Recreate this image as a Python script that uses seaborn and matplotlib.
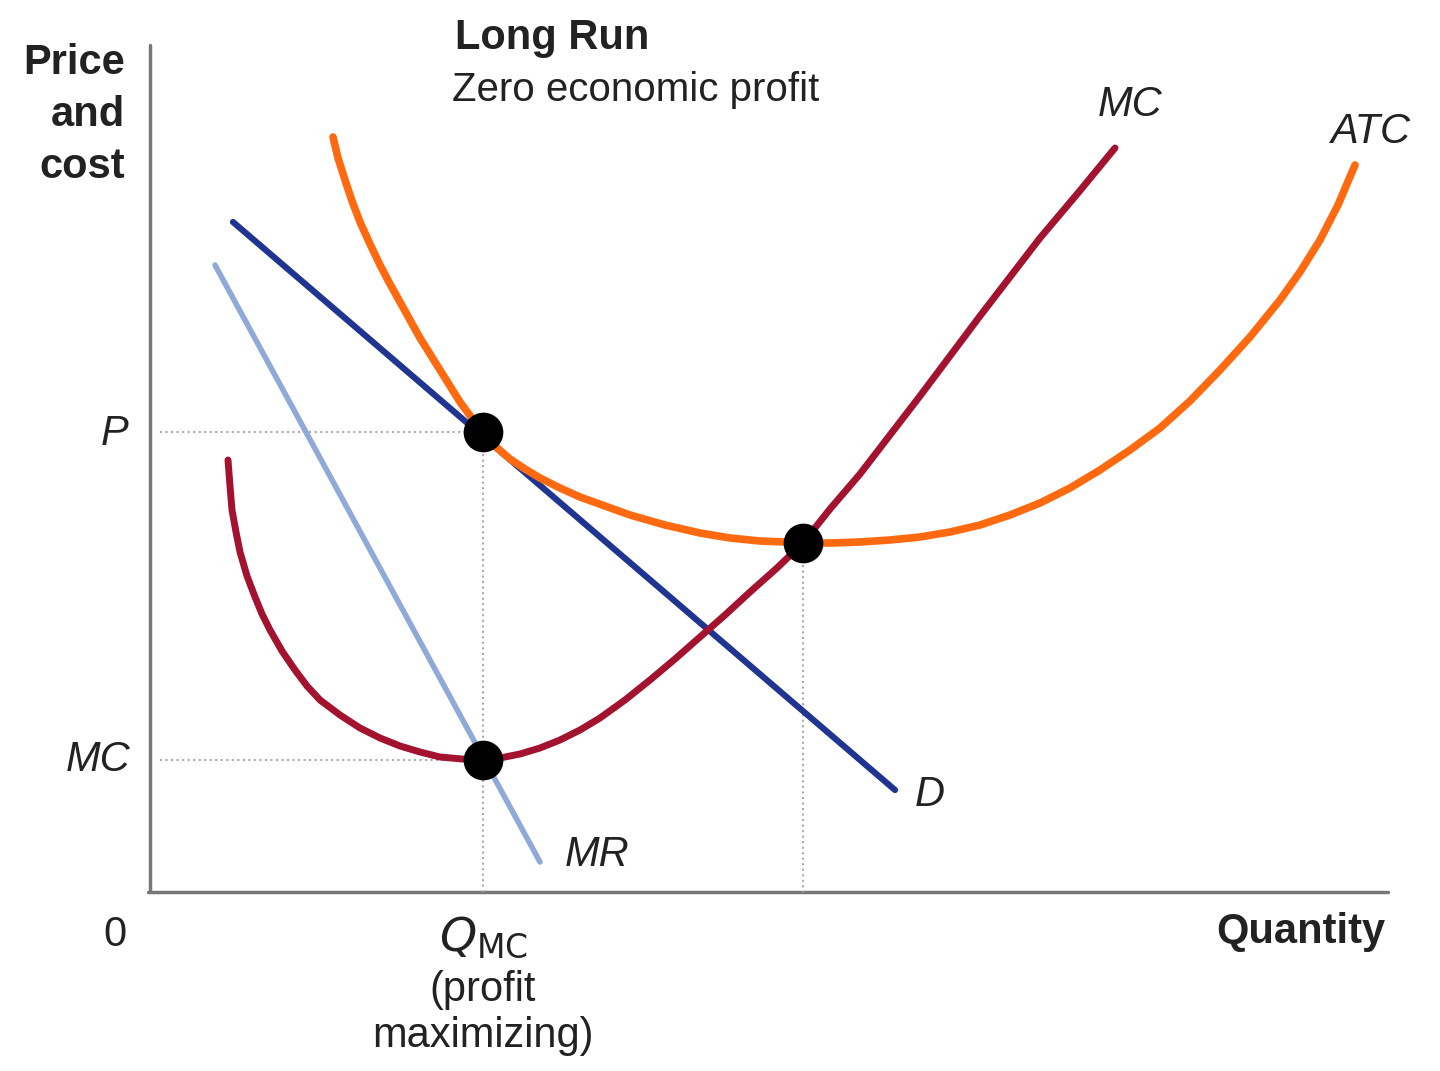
import matplotlib
matplotlib.use("Agg")
import matplotlib.pyplot as plt
import seaborn as sns

sns.set_theme(style="white")
plt.rcParams['font.family'] = ['Liberation Sans', 'DejaVu Sans']

# curve points (pixel-like coordinates, y downward)
atc_x = [333, 338, 345, 352, 360, 370, 380, 390, 400, 410, 420, 430, 440, 450, 460, 471, 483, 495, 510, 525, 540, 560, 580, 605, 630, 665, 700, 730, 760, 785, 803, 830, 860, 890, 920, 950, 980, 1010, 1040, 1070, 1100, 1130, 1160, 1190, 1220, 1250, 1280, 1300, 1320, 1338, 1355]
atc_y = [137, 158, 180, 201, 222, 244, 265, 284, 302, 320, 338, 354, 370, 386, 402, 417, 432, 446, 459, 469, 478, 488, 497, 506, 515, 525, 533, 538, 541, 542, 543, 543, 542, 540, 537, 532, 525, 515, 503, 488, 470, 450, 428, 401, 370, 337, 300, 272, 240, 205, 165]
mc_x = [228, 230, 232, 236, 240, 247, 255, 262, 270, 282, 295, 307, 320, 340, 360, 380, 400, 420, 440, 462, 483, 500, 520, 540, 560, 580, 600, 625, 650, 675, 700, 725, 750, 777, 803, 830, 860, 890, 920, 950, 980, 1010, 1040, 1078, 1115]
mc_y = [460, 486, 510, 532, 552, 576, 597, 614, 630, 651, 670, 686, 700, 715, 728, 738, 746, 752, 757, 759, 760, 758, 754, 748, 740, 730, 718, 700, 680, 659, 637, 615, 592, 568, 543, 509, 474, 435, 396, 356, 316, 277, 238, 193, 148]
d_x = [233, 895]
d_y = [222, 790]
mr_x = [215, 540]
mr_y = [265, 862]
dot_x = [483, 483, 803]
dot_y = [432, 760, 543]

fig = plt.figure(figsize=(14.4, 10.71), dpi=100)
ax = fig.add_axes([0, 0, 1, 1])
ax.set_xlim(0, 1440)
ax.set_ylim(1071, 0)
ax.axis('off')

# axes
ax.plot([150, 150], [45, 892], color='#777777', lw=2.5)
ax.plot([148, 1388], [892, 892], color='#777777', lw=2.5)

# dotted guides
dot_kw = dict(color='#aaaaaa', lw=1.5, ls=':')
ax.plot([160, 483], [432, 432], **dot_kw)
ax.plot([160, 483], [760, 760], **dot_kw)
ax.plot([483, 483], [432, 892], **dot_kw)
ax.plot([803, 803], [543, 892], **dot_kw)

sns.lineplot(x=mr_x, y=mr_y, ax=ax, color='#8fa9d8', lw=4, sort=False)
sns.lineplot(x=d_x, y=d_y, ax=ax, color='#1f3590', lw=4.5, sort=False)
sns.lineplot(x=atc_x, y=atc_y, ax=ax, color='#ff6a10', lw=5.5, sort=False)
sns.lineplot(x=mc_x, y=mc_y, ax=ax, color='#a3122e', lw=5, sort=False)
for ln in ax.lines:
    ln.set_solid_joinstyle('round')
sns.scatterplot(x=dot_x, y=dot_y, ax=ax, color='black', s=700, zorder=5, edgecolor='black')

fs = 30
ax.text(125, 115, "Price\nand\ncost", ha='right', va='center', fontsize=fs, fontweight='bold', color='#222222', linespacing=1.4, multialignment='right')
ax.text(455, 38, "Long Run", fontsize=fs, fontweight='bold', color='#222222', va='center')
ax.text(452, 90, "Zero economic profit", fontsize=fs - 1, color='#222222', va='center')
ax.text(1130, 105, "MC", fontsize=fs, style='italic', color='#222222', ha='center', va='center')
ax.text(1370, 132, "ATC", fontsize=fs, style='italic', color='#222222', ha='center', va='center')
ax.text(930, 795, "D", fontsize=fs, style='italic', color='#222222', ha='center', va='center')
ax.text(597, 855, "MR", fontsize=fs, style='italic', color='#222222', ha='center', va='center')
ax.text(128, 434, "P", fontsize=fs, style='italic', color='#222222', ha='right', va='center')
ax.text(130, 760, "MC", fontsize=fs, style='italic', color='#222222', ha='right', va='center')
ax.text(115, 935, "0", fontsize=fs, color='#222222', ha='center', va='center')
ax.text(1385, 932, "Quantity", fontsize=fs, fontweight='bold', color='#222222', ha='right', va='center')
ax.text(483, 938, "$Q_{\\mathrm{MC}}$", fontsize=fs + 4, color='#222222', ha='center', va='center')
ax.text(483, 1013, "(profit\nmaximizing)", fontsize=fs, color='#222222', ha='center', va='center', linespacing=1.2)

fig.savefig("out.png", dpi=100)
